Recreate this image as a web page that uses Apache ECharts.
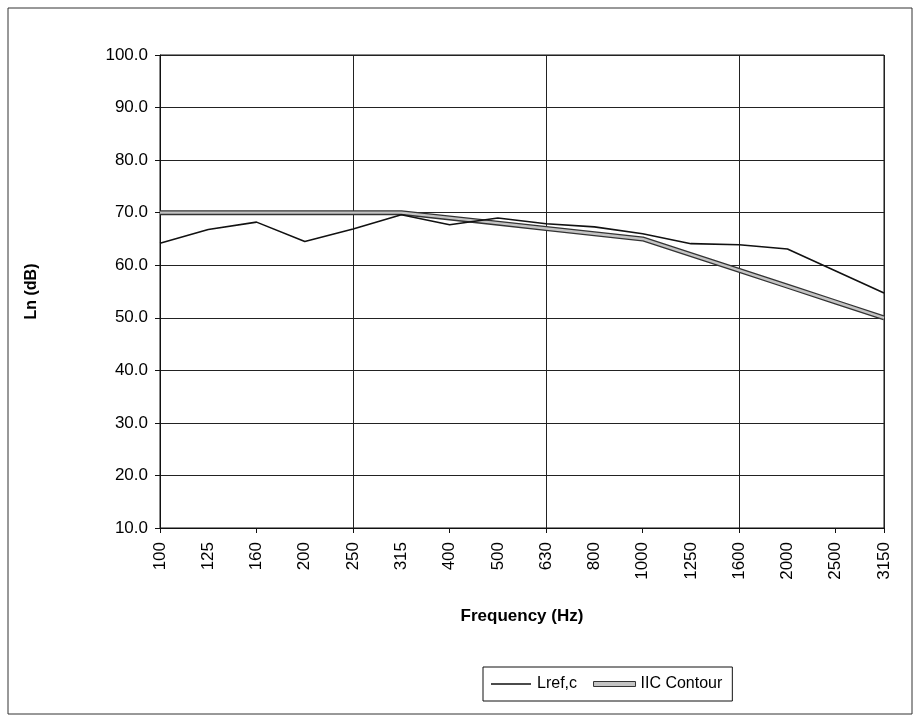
<!DOCTYPE html>
<html>
<head>
<meta charset="utf-8">
<script src="https://cdn.jsdelivr.net/npm/echarts@6/dist/echarts.min.js"></script>
<style>
html,body{margin:0;padding:0;background:#fff;}
#chart{width:924px;height:721px;}
</style>
</head>
<body>
<div id="chart"></div>
<script>
const categories = ['100','125','160','200','250','315','400','500','630','800','1000','1250','1600','2000','2500','3150'];
const lrefValues = [64.2, 66.8, 68.2, 64.5, 66.9, 69.6, 67.7, 69.0, 67.9, 67.3, 66.0, 64.1, 63.9, 63.1, 58.9, 54.7];
const iicValues = [70, 70, 70, 70, 70, 70, 69, 68, 67, 66, 65, 62, 59, 56, 53, 50];
const yTicks = {min: 10, max: 100, interval: 10};

const FONT = 'Liberation Sans, Arial, sans-serif';
const chart = echarts.init(document.getElementById('chart'));
chart.setOption({
  animation: false,
  backgroundColor: '#fff',
  graphic: [{
    type: 'rect', shape: {x: 8, y: 8, width: 904, height: 706},
    style: {fill: 'none', stroke: '#333', lineWidth: 1}, silent: true
  }],
  grid: {left: 160, right: 40, top: 55, bottom: 193, show: true, borderColor: '#111', borderWidth: 1, backgroundColor: 'transparent'},
  legend: {
    left: 483, top: 667,
    orient: 'horizontal',
    itemWidth: 42, itemHeight: 5, itemGap: 16,
    borderColor: '#111', borderWidth: 1, padding: [9, 10, 9, 8],
    textStyle: {fontFamily: FONT, fontSize: 16, color: '#000'},
    data: [
      {name: 'Lref,c', icon: 'path://M0,0L0.01,0L0,0.01ZM0,1.8L40,1.8L40,3.2L0,3.2ZM40,5L39.99,5L40,4.99Z', itemStyle: {color: '#111'}},
      {name: 'IIC Contour', icon: 'rect', itemStyle: {color: '#c4c4c4', borderColor: '#333', borderWidth: 1}}
    ]
  },
  xAxis: {
    type: 'category', data: categories, boundaryGap: false,
    name: 'Frequency (Hz)', nameLocation: 'middle', nameGap: 80,
    nameTextStyle: {fontFamily: FONT, fontSize: 17, fontWeight: 'bold', color: '#000'},
    axisLine: {show: true, lineStyle: {color: '#111', width: 1}},
    axisTick: {show: true, interval: 1, length: 5, lineStyle: {color: '#111'}},
    axisLabel: {interval: 0, rotate: 90, margin: 14, fontFamily: FONT, fontSize: 17, color: '#000'},
    splitLine: {show: true, interval: 3, lineStyle: {color: '#222', width: 1}}
  },
  yAxis: {
    type: 'value', min: yTicks.min, max: yTicks.max, interval: yTicks.interval,
    name: 'Ln (dB)', nameLocation: 'middle', nameGap: 120, nameRotate: 90,
    nameTextStyle: {fontFamily: FONT, fontSize: 16, fontWeight: 'bold', color: '#000'},
    axisLine: {show: true, lineStyle: {color: '#111', width: 1}},
    axisTick: {show: true, length: 5, lineStyle: {color: '#111'}},
    axisLabel: {margin: 12, fontFamily: FONT, fontSize: 17, color: '#000', formatter: v => v.toFixed(1)},
    splitLine: {show: true, lineStyle: {color: '#222', width: 1}}
  },
  series: [
    {name: 'Lref,c', type: 'line', data: lrefValues, symbol: 'none', z: 4,
     lineStyle: {color: '#111', width: 1.6}, itemStyle: {color: '#111'}},
    {name: 'IIC Contour', type: 'line', data: iicValues, symbol: 'none', z: 2,
     lineStyle: {color: '#333', width: 5}, itemStyle: {color: '#c4c4c4'}},
    {name: 'IIC Contour', type: 'line', data: iicValues, symbol: 'none', z: 3,
     lineStyle: {color: '#c4c4c4', width: 2.4}, itemStyle: {color: '#c4c4c4'}}
  ]
});
</script>
</body>
</html>
